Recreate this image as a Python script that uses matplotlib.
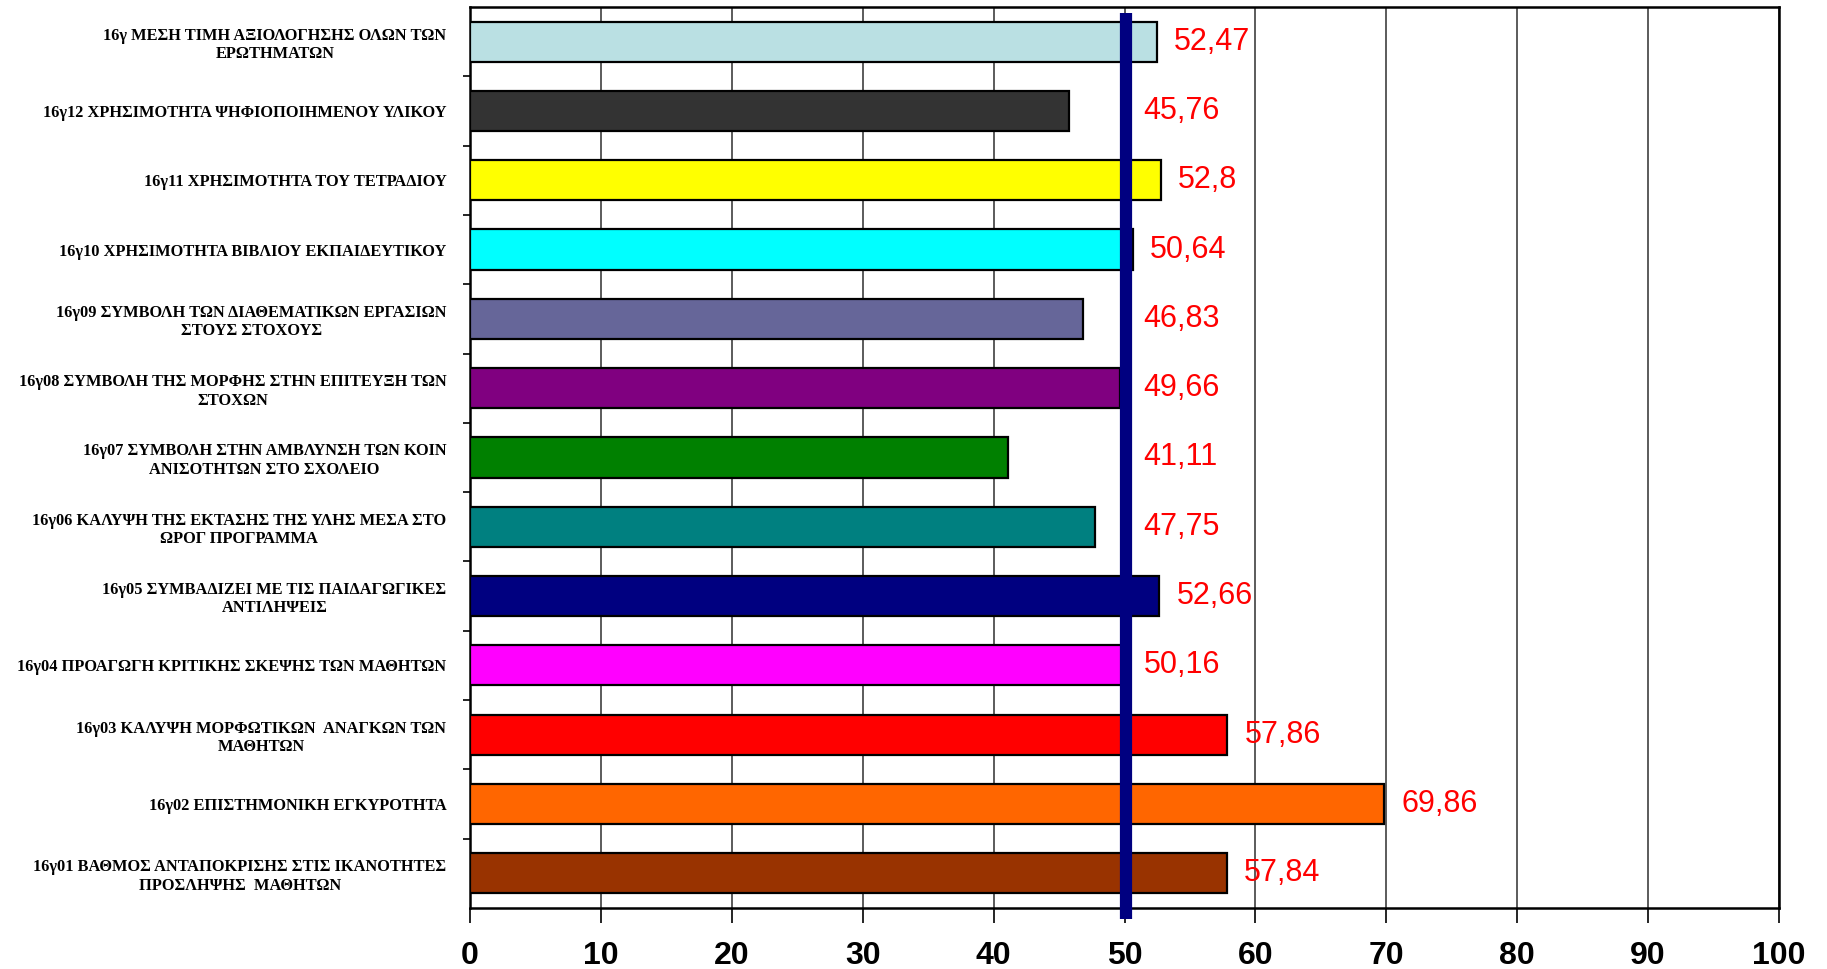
import matplotlib.pyplot as plt
from matplotlib.transforms import blended_transform_factory

labels = [
    '16γ ΜΕΣΗ ΤΙΜΗ ΑΞΙΟΛΟΓΗΣΗΣ ΟΛΩΝ ΤΩΝ\nΕΡΩΤΗΜΑΤΩΝ',
    '16γ12 ΧΡΗΣΙΜΟΤΗΤΑ ΨΗΦΙΟΠΟΙΗΜΕΝΟΥ ΥΛΙΚΟΥ',
    '16γ11 ΧΡΗΣΙΜΟΤΗΤΑ ΤΟΥ ΤΕΤΡΑΔΙΟΥ',
    '16γ10 ΧΡΗΣΙΜΟΤΗΤΑ ΒΙΒΛΙΟΥ ΕΚΠΑΙΔΕΥΤΙΚΟΥ',
    '16γ09 ΣΥΜΒΟΛΗ ΤΩΝ ΔΙΑΘΕΜΑΤΙΚΩΝ ΕΡΓΑΣΙΩΝ\nΣΤΟΥΣ ΣΤΟΧΟΥΣ',
    '16γ08 ΣΥΜΒΟΛΗ ΤΗΣ ΜΟΡΦΗΣ ΣΤΗΝ ΕΠΙΤΕΥΞΗ ΤΩΝ\nΣΤΟΧΩΝ',
    '16γ07 ΣΥΜΒΟΛΗ ΣΤΗΝ ΑΜΒΛΥΝΣΗ ΤΩΝ ΚΟΙΝ\nΑΝΙΣΟΤΗΤΩΝ ΣΤΟ ΣΧΟΛΕΙΟ',
    '16γ06 ΚΑΛΥΨΗ ΤΗΣ ΕΚΤΑΣΗΣ ΤΗΣ ΥΛΗΣ ΜΕΣΑ ΣΤΟ\nΩΡΟΓ ΠΡΟΓΡΑΜΜΑ',
    '16γ05 ΣΥΜΒΑΔΙΖΕΙ ΜΕ ΤΙΣ ΠΑΙΔΑΓΩΓΙΚΕΣ\nΑΝΤΙΛΗΨΕΙΣ',
    '16γ04 ΠΡΟΑΓΩΓΗ ΚΡΙΤΙΚΗΣ ΣΚΕΨΗΣ ΤΩΝ ΜΑΘΗΤΩΝ',
    '16γ03 ΚΑΛΥΨΗ ΜΟΡΦΩΤΙΚΩΝ  ΑΝΑΓΚΩΝ ΤΩΝ\nΜΑΘΗΤΩΝ',
    '16γ02 ΕΠΙΣΤΗΜΟΝΙΚΗ ΕΓΚΥΡΟΤΗΤΑ',
    '16γ01 ΒΑΘΜΟΣ ΑΝΤΑΠΟΚΡΙΣΗΣ ΣΤΙΣ ΙΚΑΝΟΤΗΤΕΣ\nΠΡΟΣΛΗΨΗΣ  ΜΑΘΗΤΩΝ',
]
values = [52.47, 45.76, 52.8, 50.64, 46.83, 49.66, 41.11, 47.75, 52.66, 50.16, 57.86, 69.86, 57.84]
value_text = ['52,47', '45,76', '52,8', '50,64', '46,83', '49,66', '41,11', '47,75',
              '52,66', '50,16', '57,86', '69,86', '57,84']
colors = ['#BAE0E3', '#333333', '#FFFF00', '#00FFFF', '#666699', '#800080', '#008000',
          '#008080', '#000080', '#FF00FF', '#FF0000', '#FF6600', '#993300']
ref_value = 50.15
xticks = list(range(0, 101, 10))

fig = plt.figure(figsize=(18.27, 9.69), dpi=100)
ax = fig.add_axes([0.2573, 0.063, 0.7164, 0.9298])

pos = list(range(len(values)))
ax.barh(pos, values, height=0.58, color=colors, edgecolor='black', linewidth=1.6, zorder=3)

# value labels sit just right of the bar, or right of the 50 line for short bars
for p, v, t in zip(pos, values, value_text):
    ax.text(max(v + 1.3, 51.4), p, t, color='#FF0000', fontsize=22,
            family='Liberation Sans', va='center', ha='left', zorder=5)

ax.set_xlim(0, 100)
ax.set_ylim(len(values) - 0.5, -0.5)
ax.set_xticks(xticks)
ax.set_xticklabels([str(x) for x in xticks], fontsize=23, fontweight='bold', family='Liberation Sans')
ax.tick_params(axis='x', length=11, width=1.2, pad=13)

ax.set_yticks(pos)
ax.set_yticklabels(labels, fontsize=11.8, fontweight='bold', family='Liberation Serif',
                   ha='right', multialignment='center', linespacing=1.2)
ax.tick_params(axis='y', length=0, pad=17)
ax.set_yticks([p + 0.5 for p in pos[:-1]], minor=True)
ax.tick_params(axis='y', which='minor', length=5, width=1.2)

ax.grid(axis='x', color='#404040', linewidth=1.2, zorder=0)
ax.set_axisbelow(True)
for s in ax.spines.values():
    s.set_linewidth(1.8)

trans = blended_transform_factory(ax.transData, ax.transAxes)
ax.plot([ref_value, ref_value], [-0.012, 0.993], color='#000080', linewidth=8.8,
        solid_capstyle='butt', transform=trans, clip_on=False, zorder=6)

fig.savefig('out.png', dpi=100)
